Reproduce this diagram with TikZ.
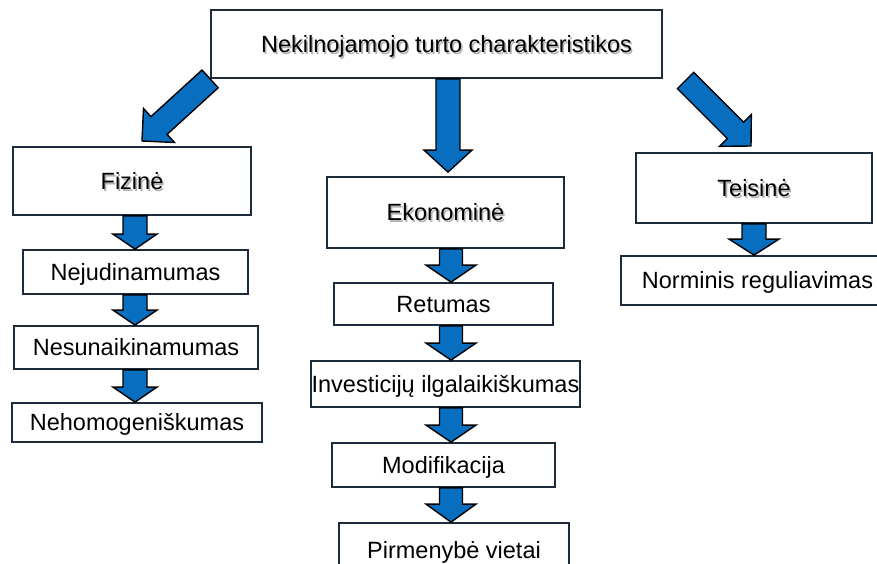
\documentclass[tikz,border=0pt]{standalone}
\usepackage{fontspec}
\setmainfont{Liberation Sans}
\usetikzlibrary{calc}

\definecolor{boxline}{RGB}{28,44,60}
\definecolor{arrowblue}{RGB}{8,110,192}

% text with a soft grey drop shadow
\newcommand\shadowtext[1]{\makebox[0pt][l]{\hspace{1.6pt}\raisebox{-1.6pt}{\textcolor{black!30}{#1}}}#1}

% outlined block arrow: tail, tip, shaft half-width, head half-width, head length
\newcommand\blockarrow[5]{%
  \coordinate (ba-a) at (#1);
  \coordinate (ba-b) at (#2);
  \coordinate (ba-c) at ($(ba-b)!#5!(ba-a)$);
  \draw[barrow] ($(ba-a)!#3!90:(ba-b)$) -- ($(ba-c)!#3!-90:(ba-a)$)
    -- ($(ba-c)!#4!-90:(ba-a)$) -- (ba-b) -- ($(ba-c)!#4!90:(ba-a)$)
    -- ($(ba-c)!#3!90:(ba-a)$) -- ($(ba-a)!#3!-90:(ba-b)$) -- cycle;
}

\tikzset{
  box/.style={draw=boxline, line width=1.8pt, fill=white, inner sep=0pt,
    font=\fontsize{23.5}{28}\selectfont, text=black,
    text height=21.15pt, text depth=4.32pt},
  barrow/.style={draw=black, fill=arrowblue, line width=1.4pt, line join=miter},
}

\begin{document}
\begin{tikzpicture}[x=1pt, y=-1pt]
  \useasboundingbox (0,0) rectangle (877,564);
  \fill[white] (0,0) rectangle (877,564);

  % column axes
  \coordinate (colF) at (135,0);
  \coordinate (colE) at (451,0);
  \coordinate (colT) at (754,0);
  \coordinate (colTop) at (448,0);

  % root
  \node[box, minimum width=451pt, minimum height=68pt] (top) at (436.5,44)
    {\hspace*{20pt}\shadowtext{Nekilnojamojo turto charakteristikos}};

  % physical branch
  \node[box, minimum width=238pt, minimum height=68pt] (fizine) at (132,181) {\shadowtext{Fizinė}};
  \node[box, minimum width=225pt, minimum height=44pt] (nejud) at (135.5,272) {Nejudinamumas};
  \node[box, minimum width=244pt, minimum height=43pt] (nesun) at (136,347.5) {Nesunaikinamumas};
  \node[box, minimum width=250pt, minimum height=39pt] (nehomo) at (137,422.5) {Nehomogeniškumas};

  % economic branch
  \node[box, minimum width=237pt, minimum height=71pt] (ekon) at (445.5,212.5) {\shadowtext{Ekonominė}};
  \node[box, minimum width=219pt, minimum height=42pt] (retumas) at (443.5,304) {Retumas};
  \node[box, minimum width=269pt, minimum height=46pt] (invest) at (445.5,384) {Investicijų ilgalaikiškumas};
  \node[box, minimum width=223pt, minimum height=44pt] (modif) at (443.5,465) {Modifikacija};
  \node[box, minimum width=230pt, minimum height=54pt] (pirm) at (454,550) {Pirmenybė vietai};

  % legal branch
  \node[box, minimum width=236pt, minimum height=70pt] (teisine) at (754,188) {\shadowtext{Teisinė}};
  \node[box, minimum width=273pt, minimum height=49pt] (norminis) at (757.5,280.5) {Norminis reguliavimas};

  % free ends of the diagonal arrows
  \coordinate (tipL) at (142,141);
  \coordinate (tailR) at (685.5,80.5);
  \coordinate (tipR) at (751,146);
  \coordinate (tipTop) at ($(ekon.north -| colTop)+(0,-4)$);

  % arrows from the root
  \blockarrow{top.south west}{tipL}{12pt}{23pt}{23pt}
  \blockarrow{top.south -| colTop}{tipTop}{12pt}{24pt}{22pt}
  \blockarrow{tailR}{tipR}{11.5pt}{22.5pt}{22pt}

  % physical chain
  \blockarrow{fizine.south -| colF}{nejud.north -| colF}{12pt}{22pt}{15pt}
  \blockarrow{nejud.south -| colF}{nesun.north -| colF}{12pt}{22pt}{15pt}
  \blockarrow{nesun.south -| colF}{nehomo.north -| colF}{12pt}{22pt}{15pt}

  % economic chain
  \blockarrow{ekon.south -| colE}{retumas.north -| colE}{11.5pt}{25pt}{17pt}
  \blockarrow{retumas.south -| colE}{invest.north -| colE}{11.5pt}{25pt}{17pt}
  \blockarrow{invest.south -| colE}{modif.north -| colE}{11.5pt}{25pt}{17pt}
  \blockarrow{modif.south -| colE}{pirm.north -| colE}{11.5pt}{25pt}{18pt}

  % legal chain
  \blockarrow{teisine.south -| colT}{norminis.north -| colT}{12pt}{25pt}{16pt}
\end{tikzpicture}
\end{document}
